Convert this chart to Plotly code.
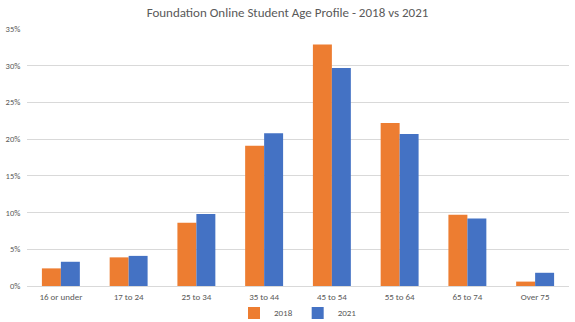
import plotly.graph_objects as go

categories = ["16 or under", "17 to 24", "25 to 34", "35 to 44", "45 to 54", "55 to 64", "65 to 74", "Over 75"]
values_2018 = [0.024, 0.039, 0.086, 0.191, 0.329, 0.222, 0.097, 0.006]
values_2021 = [0.033, 0.041, 0.098, 0.208, 0.297, 0.207, 0.092, 0.018]
tick_vals = [0, 0.05, 0.10, 0.15, 0.20, 0.25, 0.30, 0.35]
tick_text = ["0%", "5%", "10%", "15%", "20%", "25%", "30%", "35%"]

font_family = "Carlito, Liberation Sans Narrow, Liberation Sans, sans-serif"
gray = "#595959"

fig = go.Figure()
fig.add_trace(go.Bar(name="2018", x=categories, y=values_2018, marker_color="#ED7D31", marker_line_width=0))
fig.add_trace(go.Bar(name="2021", x=categories, y=values_2021, marker_color="#4472C4", marker_line_width=0))

fig.update_layout(
    width=575, height=322,
    margin=dict(l=27, r=6, t=29, b=36, autoexpand=False),
    paper_bgcolor="white", plot_bgcolor="white",
    barmode="group", bargap=0.44, bargroupgap=0,
    title=dict(text="Foundation Online Student Age Profile - 2018 vs 2021",
               x=0.5, xanchor="center", y=0.962, yanchor="middle",
               font=dict(family=font_family, size=13, color=gray)),
    font=dict(family=font_family, size=9, color=gray),
    showlegend=True,
    legend=dict(orientation="h", x=0.5, xanchor="center", yref="container", y=0.028, yanchor="middle",
                font=dict(size=9, color=gray), itemwidth=30, bgcolor="rgba(0,0,0,0)"),
    xaxis=dict(showgrid=False, showline=True, linecolor="#D9D9D9", linewidth=1,
               ticks="outside", ticklen=2, tickcolor="rgba(0,0,0,0)",
               tickfont=dict(size=9, color=gray), automargin=False),
    yaxis=dict(range=[0, 0.35], tickvals=tick_vals, ticktext=tick_text,
               showgrid=True, gridcolor="#D9D9D9", gridwidth=1, zeroline=False,
               showline=False, ticks="outside", ticklen=4, tickcolor="rgba(0,0,0,0)",
               tickfont=dict(size=8.5, color=gray), automargin=False),
)

fig.write_html("out.html")
